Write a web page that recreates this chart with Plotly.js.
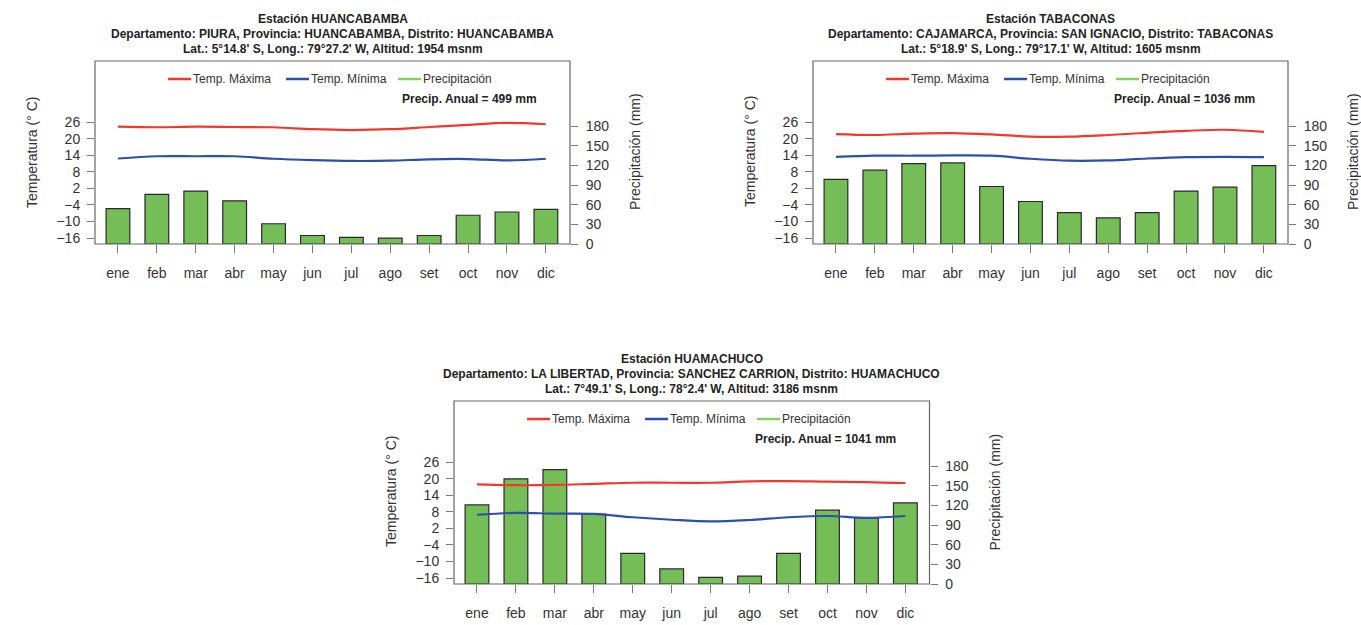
<!DOCTYPE html>
<html>
<head>
<meta charset="utf-8">
<script src="https://cdn.plot.ly/plotly-3.0.1.min.js"></script>
<style>html,body{margin:0;padding:0;background:#fff;}#chart{width:1361px;height:625px;}</style>
</head>
<body>
<div id="chart"></div>
<script>
// ---- Data ----
var months = ['ene','feb','mar','abr','may','jun','jul','ago','set','oct','nov','dic'];
var tempTicks = [-16,-10,-4,2,8,14,20,26];
var precipTicks = [0,30,60,90,120,150,180];

// Station HUANCABAMBA
var hbPrecip = [54,76,81,66,31,13,10,9,13,44,49,53];
var hbTmax = [24.3,24.1,24.3,24.2,24.1,23.4,23.1,23.4,24.2,25.0,25.7,25.2];
var hbTmin = [12.8,13.6,13.6,13.6,12.7,12.2,11.9,12.0,12.5,12.6,12.1,12.7];

// Station TABACONAS
var tbPrecip = [99,113,123,124,88,65,48,40,48,81,87,120];
var tbTmax = [21.6,21.3,21.8,22.0,21.5,20.7,20.7,21.3,22.1,22.8,23.2,22.4];
var tbTmin = [13.4,13.8,13.8,13.9,13.8,12.7,12.0,12.1,12.8,13.3,13.4,13.3];

// Station HUAMACHUCO
var hmPrecip = [121,161,175,107,47,23,10,12,47,113,101,124];
var hmTmax = [17.9,17.6,17.7,18.1,18.5,18.5,18.5,19.0,19.1,18.9,18.75,18.4];
var hmTmin = [6.9,7.6,7.3,7.2,6.0,5.1,4.5,5.0,6.0,6.45,5.8,6.45];

var stations = [
  {titles:['Estación HUANCABAMBA','Departamento: PIURA, Provincia: HUANCABAMBA, Distrito: HUANCABAMBA',"Lat.: 5°14.8' S, Long.: 79°27.2' W, Altitud: 1954 msnm"],
   annual:'Precip. Anual = 499 mm', precip:hbPrecip, tmax:hbTmax, tmin:hbTmin},
  {titles:['Estación TABACONAS','Departamento: CAJAMARCA, Provincia: SAN IGNACIO, Distrito: TABACONAS',"Lat.: 5°18.9' S, Long.: 79°17.1' W, Altitud: 1605 msnm"],
   annual:'Precip. Anual = 1036 mm', precip:tbPrecip, tmax:tbTmax, tmin:tbTmin},
  {titles:['Estación HUAMACHUCO','Departamento: LA LIBERTAD, Provincia: SANCHEZ CARRION, Distrito: HUAMACHUCO',"Lat.: 7°49.1' S, Long.: 78°2.4' W, Altitud: 3186 msnm"],
   annual:'Precip. Anual = 1041 mm', precip:hmPrecip, tmax:hmTmax, tmin:hmTmin}
];

// ---- Layout geometry (pixels) ----
var W = 1361, H = 625;
var boxes = [
  {x0:95, x1:570, y0:61, y1:244},
  {x0:813, x1:1288, y0:61, y1:244},
  {x0:454, x1:929.5, y0:401, y1:584}
];
function px(x){return x/W;}
function py(y){return 1 - y/H;}

var FONT = 'Liberation Sans, Arial, Helvetica, sans-serif';
var RED = '#f5372b', BLUE = '#2c4fae', GREEN = '#75be57', LGREEN = '#80d25c';

var data = [];
var layout = {
  width: W, height: H,
  margin: {l:0, r:0, t:0, b:0},
  paper_bgcolor: '#fff', plot_bgcolor: 'rgba(0,0,0,0)',
  showlegend: false,
  font: {family: FONT, color: '#222'},
  bargap: 0,
  annotations: [], shapes: []
};

stations.forEach(function(st, i){
  var b = boxes[i];
  var xs = i === 0 ? '' : String(i+1);
  var yP = 2*i + 1, yT = 2*i + 2;
  var yPs = yP === 1 ? '' : String(yP);
  var yTs = String(yT);
  var xa = 'x' + xs, yPa = 'y' + yPs, yTa = 'y' + yTs;

  data.push({type:'bar', x:months, y:st.precip, xaxis:xa, yaxis:yPa, width:0.61,
    marker:{color:GREEN, line:{color:'#2a2a2a', width:1.2}}, hoverinfo:'y'});
  data.push({type:'scatter', mode:'lines', x:months, y:st.tmax, xaxis:xa, yaxis:yTa,
    line:{color:RED, width:2.2, shape:'spline', smoothing:1}});
  data.push({type:'scatter', mode:'lines', x:months, y:st.tmin, xaxis:xa, yaxis:yTa,
    line:{color:BLUE, width:2.2, shape:'spline', smoothing:1}});

  var dom = [px(b.x0), px(b.x1)];
  var ydom = [py(b.y1), py(b.y0)];
  layout['xaxis' + xs] = {
    domain: dom, anchor: yPa, type:'category', range:[-0.59, 11.62],
    showline:false, zeroline:false, showgrid:false,
    ticks:'outside', ticklen:8, tickwidth:1, tickcolor:'#777',
    ticklabelstandoff: 8,
    tickfont:{size:14, color:'#333', family:FONT}, fixedrange:true
  };
  layout['yaxis' + yPs] = {
    domain: ydom, anchor: xa, side:'right', range:[0, 280],
    tickvals: precipTicks, showgrid:false, zeroline:false, showline:false,
    ticks:'outside', ticklen:7, tickcolor:'#777', ticklabelstandoff: 5,
    tickfont:{size:14, color:'#333', family:FONT}
  };
  layout['yaxis' + yTs] = {
    overlaying: yPa, anchor: xa, side:'left', range:[-18.17, 48.1],
    tickvals: tempTicks, showgrid:false, zeroline:false, showline:false,
    ticks:'outside', ticklen:7, tickcolor:'#777', ticklabelstandoff: 4,
    tickfont:{size:14, color:'#333', family:FONT}
  };

  // box
  layout.shapes.push({type:'rect', xref:'paper', yref:'paper',
    x0:px(b.x0), x1:px(b.x1), y0:py(b.y1), y1:py(b.y0),
    line:{color:'#666', width:1.2}, fillcolor:'rgba(0,0,0,0)', layer:'above'});

  // titles
  var cx = (b.x0 + b.x1)/2;
  var dy = b.y0 - 61;
  [19, 34, 49].forEach(function(yy, k){
    layout.annotations.push({xref:'paper', yref:'paper', x:px(cx), y:py(yy+dy),
      xanchor:'center', yanchor:'middle', showarrow:false, text:'<b>'+st.titles[k]+'</b>',
      font:{size:12, color:'#222', family:FONT}});
  });

  // legend
  var ly = 79 + dy;
  var items = [
    {c:RED, t:'Temp. Máxima', x:73},
    {c:BLUE, t:'Temp. Mínima', x:191},
    {c:LGREEN, t:'Precipitación', x:303}
  ];
  items.forEach(function(it){
    layout.shapes.push({type:'line', xref:'paper', yref:'paper',
      x0:px(b.x0+it.x), x1:px(b.x0+it.x+23), y0:py(ly), y1:py(ly),
      line:{color:it.c, width:2.5}});
    layout.annotations.push({xref:'paper', yref:'paper', x:px(b.x0+it.x+23), y:py(ly),
      xanchor:'left', yanchor:'middle', showarrow:false, text:it.t,
      font:{size:12, color:'#333', family:FONT}});
  });
  layout.annotations.push({xref:'paper', yref:'paper', x:px(b.x1-31), y:py(99+dy),
    xanchor:'right', yanchor:'middle', showarrow:false, text:'<b>'+st.annual+'</b>',
    font:{size:12, color:'#222', family:FONT}});

  // axis titles
  layout.annotations.push({xref:'paper', yref:'paper', x:px(b.x0-63), y:py(152+dy),
    xanchor:'center', yanchor:'middle', showarrow:false, textangle:-90,
    text:'Temperatura (° C)', font:{size:14, color:'#333', family:FONT}});
  layout.annotations.push({xref:'paper', yref:'paper', x:px(b.x1+65), y:py(152+dy),
    xanchor:'center', yanchor:'middle', showarrow:false, textangle:-90,
    text:'Precipitación (mm)', font:{size:14, color:'#333', family:FONT}});
});

Plotly.newPlot('chart', data, layout, {displayModeBar:false, staticPlot:true});
</script>
</body>
</html>
